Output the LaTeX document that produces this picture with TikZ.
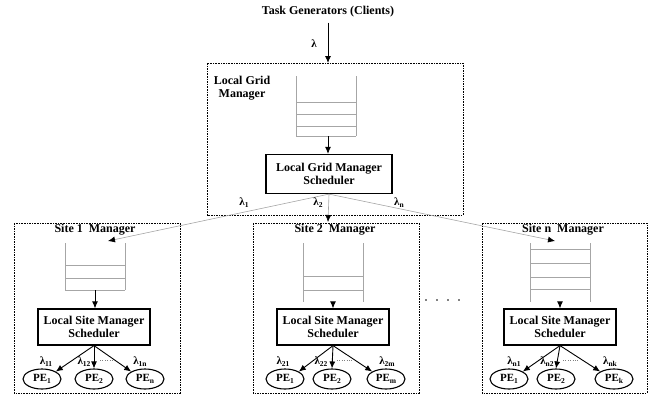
\documentclass[tikz,border=0pt]{standalone}
\usepackage{fontspec}
\setmainfont{Liberation Serif}
\usetikzlibrary{arrows.meta,shapes.geometric}
\newcommand\lsub[1]{\raisebox{-0.35ex}{\fontsize{7.5}{8}\selectfont #1}}
\newcommand\lam[1]{λ\lsub{#1}}
\tikzstyle{every node}=[font=\bfseries\fontsize{12}{13}\selectfont, inner sep=1pt]
\tikzstyle{manager}=[draw, dash pattern=on 1.6pt off 1pt, line width=1pt]
\tikzstyle{sched}=[draw, line width=1.2pt, minimum width=112pt, minimum height=36pt, align=center, inner sep=0pt]
\tikzstyle{pe}=[draw, ellipse, line width=1.1pt, minimum width=38pt, minimum height=20pt, inner sep=0pt, font=\bfseries\fontsize{11}{12}\selectfont]
\tikzstyle{lab}=[font=\bfseries\fontsize{11}{12}\selectfont]
\tikzstyle{queue}=[gray!70, line width=0.7pt]
\tikzstyle{feed}=[gray!70, line width=0.6pt, -{Latex[color=black, length=7pt, width=6pt]}]
\tikzstyle{flow}=[black, line width=0.9pt, -{Latex[length=7pt, width=6pt]}]

\begin{document}
\begin{tikzpicture}[x=1pt, y=-1pt]
\useasboundingbox (0,0) rectangle (651,397);
% Clients
    \node (clients) at (328,12) {Task Generators (Clients)};
    \coordinate (lgmin) at (328,63);
    \draw[flow, shorten <=4pt] (clients.south) -- (lgmin);
    \node[lab] (lam) at (314,44) {λ};
% Local grid manager
    \draw[manager] (207,63) rectangle (463,215);
    \node[align=center] (lgmlabel) at (242,88) {Local Grid\\Manager};
    \draw[queue] (296,76) -- (296,136) (356,76) -- (356,136);
    \foreach \y in {102,114,126,136}
        \draw[queue] (296,\y) -- (356,\y);
    \coordinate (lgmq) at (328,136);
    \node[sched, minimum width=126pt, minimum height=39pt] (lgmsched) at (329,174) {Local Grid Manager\\Scheduler};
    \draw[flow] (lgmq) -- (lgmq |- lgmsched.north);
% Dispatch to sites
    \coordinate (s1in) at (108,241);
    \coordinate (s2in) at (328,222);
    \coordinate (snin) at (555,241);
    \draw[feed] (lgmsched.south) -- (s1in);
    \draw[feed] (lgmsched.south) -- (s2in);
    \draw[feed] (lgmsched.south) -- (snin);
    \node[lab] (lam1) at (244,203) {\lam{1}};
    \node[lab] (lam2) at (318,203) {\lam{2}};
    \node[lab] (lamn) at (399,203) {\lam{n}};
% Site 1
    \draw[manager] (14,223) rectangle (180,393);
    \node (s1title) at (95,230) {Site 1\ \ Manager};
    \draw[queue] (65,243) -- (65,290) (125,243) -- (125,290);
    \foreach \y in {265,278,290}
        \draw[queue] (65,\y) -- (125,\y);
    \coordinate (s1q) at (95,290);
    \node[sched] (s1sched) at (94,327) {Local Site Manager\\Scheduler};
    \draw[flow] (s1q) -- (s1q |- s1sched.north);
    \node[pe] (s1pe1) at (42,379) {PE\lsub{1}};
    \node[pe] (s1pe2) at (94,379) {PE\lsub{2}};
    \node[pe] (s1pen) at (145,379) {PE\lsub{n}};
    \draw[flow] (s1sched.south) -- (s1pe1.north east);
    \draw[flow] (s1sched.south) -- (s1pe2.north);
    \draw[flow] (s1sched.south) -- (s1pen.north west);
    \node[lab] (lam11) at (46,362) {\lam{11}};
    \node[lab] (lam12) at (84,362) {\lam{12}};
    \node[lab] (lam1n) at (140,362) {\lam{1n}};
    \draw[gray, dotted] (100,360) -- (113,360);
% Site 2
    \draw[manager] (253,223) rectangle (419,393);
    \node (s2title) at (335,230) {Site 2\ \ Manager};
    \draw[queue] (303,243) -- (303,302) (363,243) -- (363,302);
    \foreach \y in {276,290}
        \draw[queue] (303,\y) -- (363,\y);
    \coordinate (s2q) at (333,302);
    \node[sched] (s2sched) at (333,327) {Local Site Manager\\Scheduler};
    \draw[flow] (s2q) -- (s2q |- s2sched.north);
    \node[pe] (s2pe1) at (285,379) {PE\lsub{1}};
    \node[pe] (s2pe2) at (332,379) {PE\lsub{2}};
    \node[pe] (s2pem) at (386,379) {PE\lsub{m}};
    \draw[flow] (s2sched.south) -- (s2pe1.north east);
    \draw[flow] (s2sched.south) -- (s2pe2.north);
    \draw[flow] (s2sched.south) -- (s2pem.north west);
    \node[lab] (lam21) at (283,362) {\lam{21}};
    \node[lab] (lam22) at (321,362) {\lam{22}};
    \node[lab] (lam2m) at (387,362) {\lam{2m}};
    \draw[gray, dotted] (337,360) -- (352,360);
% Gap between sites
    \foreach \x in {426,437,448,459}
        \fill (\x,300) circle (0.8pt);
% Site n
    \draw[manager] (482,223) rectangle (647,393);
    \node (sntitle) at (563,230) {Site n\ \ Manager};
    \draw[queue] (530,243) -- (530,302) (590,243) -- (590,302);
    \foreach \y in {249,263,277,289}
        \draw[queue] (530,\y) -- (590,\y);
    \coordinate (snq) at (560,302);
    \node[sched] (snsched) at (560,327) {Local Site Manager\\Scheduler};
    \draw[flow] (snq) -- (snq |- snsched.north);
    \node[pe] (snpe1) at (509,379) {PE\lsub{1}};
    \node[pe] (snpe2) at (556,379) {PE\lsub{2}};
    \node[pe] (snpek) at (614,379) {PE\lsub{k}};
    \draw[flow] (snsched.south) -- (snpe1.north east);
    \draw[flow] (snsched.south) -- (snpe2.north);
    \draw[flow] (snsched.south) -- (snpek.north west);
    \node[lab] (lamn1) at (514,362) {\lam{n1}};
    \node[lab] (lamn2) at (547,362) {\lam{n2}};
    \node[lab] (lamnk) at (610,362) {\lam{nk}};
    \draw[gray, dotted] (563,360) -- (578,360);
\end{tikzpicture}
\end{document}
